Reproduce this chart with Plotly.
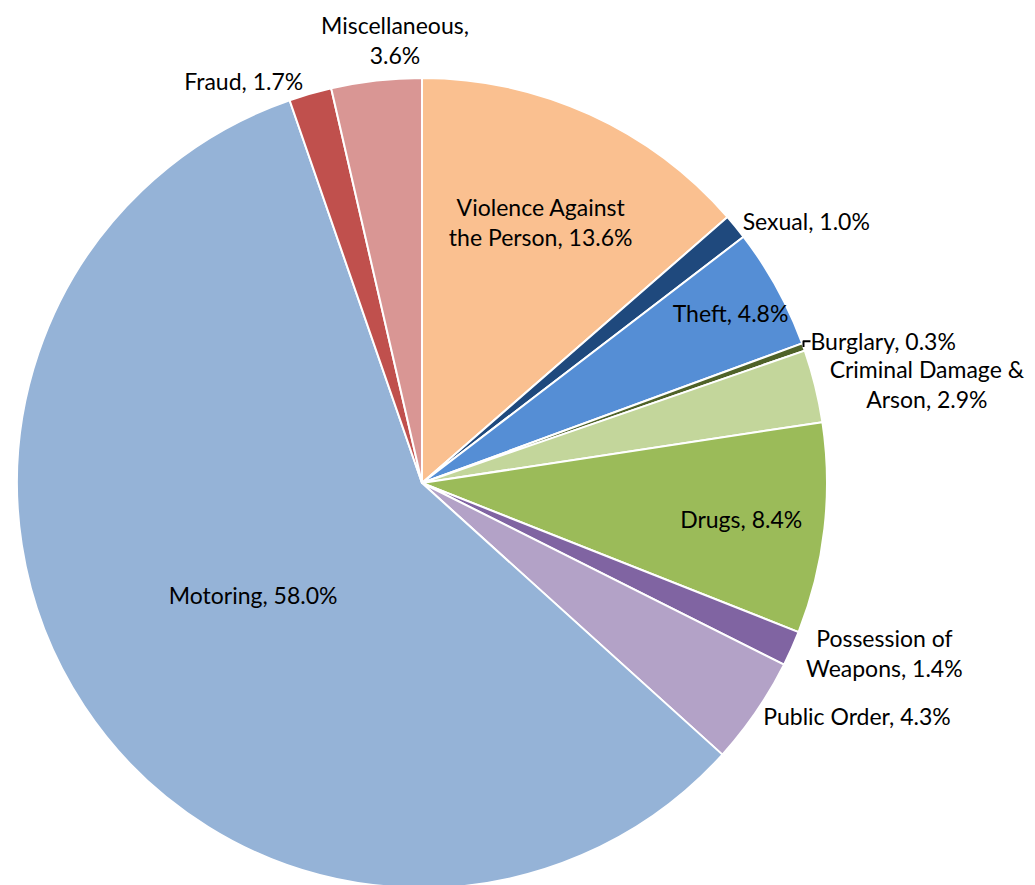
import plotly.graph_objects as go

# Offence categories, clockwise from 12 o'clock
categories = [
    "Violence Against the Person", "Sexual", "Theft", "Burglary",
    "Criminal Damage & Arson", "Drugs", "Possession of Weapons",
    "Public Order", "Motoring", "Fraud", "Miscellaneous",
]
shares = [13.6, 1.0, 4.8, 0.3, 2.9, 8.4, 1.4, 4.3, 58.0, 1.7, 3.6]

# How each label is wrapped in the chart
label_text = [
    "Violence Against<br>the Person", "Sexual", "Theft", "Burglary",
    "Criminal Damage &<br>Arson", "Drugs", "Possession of<br>Weapons",
    "Public Order", "Motoring", "Fraud", "Miscellaneous,<br>",
]
inside = ["Violence Against the Person", "Theft", "Drugs", "Motoring"]
# label placed by hand above the pie (plotly would push it aside with a leader line)
floating = ["Miscellaneous"]

COLORS = [
    "#FAC090", "#1F497D", "#558ED5", "#4F6228", "#C3D69B", "#9BBB59",
    "#8064A2", "#B3A2C7", "#95B3D7", "#C0504D", "#D99694",
]

texts = []
for lab, v in zip(label_text, shares):
    sep = "" if lab.endswith("<br>") else ", "
    texts.append(f"{lab}{sep}{v:.1f}%")

positions = []
for c in categories:
    if c in floating:
        positions.append("none")
    elif c in inside:
        positions.append("inside")
    else:
        positions.append("outside")

FONT = dict(family="Lato, sans-serif", size=23, color="black")

fig = go.Figure(go.Pie(
    labels=categories,
    values=shares,
    text=texts,
    textinfo="text",
    textposition=positions,
    insidetextorientation="horizontal",
    sort=False,
    direction="clockwise",
    rotation=0,
    marker=dict(colors=COLORS, line=dict(color="white", width=2)),
    textfont=FONT,
    outsidetextfont=FONT,
    insidetextfont=FONT,
    automargin=False,
    hoverinfo="label+percent",
))

for c in floating:
    i = categories.index(c)
    fig.add_annotation(
        text=texts[i], xref="paper", yref="paper",
        x=0.467, y=1.047, xanchor="center", yanchor="middle",
        showarrow=False, font=FONT,
    )

fig.update_layout(
    width=1035, height=885,
    paper_bgcolor="white",
    showlegend=False,
    uniformtext=dict(minsize=23, mode="show"),
    margin=dict(l=9, r=216, t=70, b=5),
)

fig.write_html("out.html")
